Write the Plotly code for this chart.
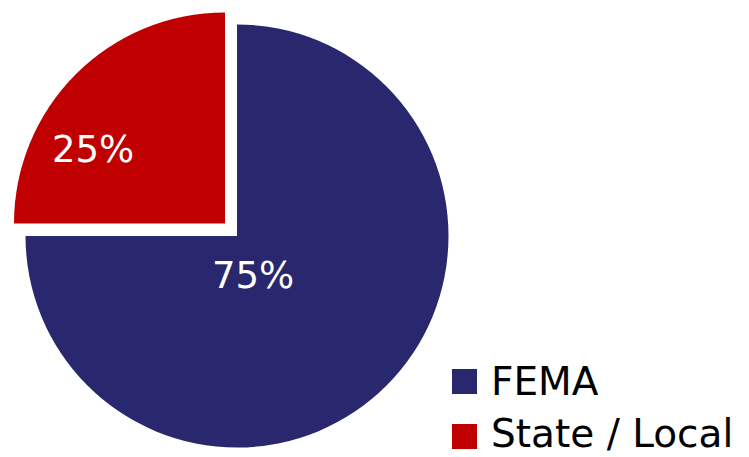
import plotly.graph_objects as go

# ---- data ----
labels = ["FEMA", "State / Local"]
values = [75, 25]
colors = ["#29286F", "#C00000"]

W, H = 749, 457
FONT = "DejaVu Sans"

def px(x):  # window x -> paper fraction
    return x / W

def py(y):  # window y (from top) -> paper fraction
    return 1 - y / H

def dom(cx, cy, r):
    return dict(x=[px(cx - r), px(cx + r)], y=[py(cy + r), py(cy - r)])

total = sum(values)
pct = [f"{v / total:.0%}" for v in values]

fig = go.Figure()
# main (FEMA) slice
fig.add_trace(go.Pie(
    labels=labels, values=values, sort=False, direction="clockwise", rotation=0,
    marker=dict(colors=[colors[0], "rgba(0,0,0,0)"], line=dict(width=0)),
    textinfo="none", showlegend=False, domain=dom(237, 236, 211.5),
    hovertemplate="%{label}: %{percent}<extra></extra>",
))
# exploded State / Local slice
fig.add_trace(go.Pie(
    labels=labels, values=values, sort=False, direction="clockwise", rotation=0,
    marker=dict(colors=["rgba(0,0,0,0)", colors[1]], line=dict(width=0)),
    textinfo="none", showlegend=False, domain=dom(225, 223.5, 211),
    hovertemplate="%{label}: %{percent}<extra></extra>",
))

# percentage labels
label_pos = [(253, 275), (93, 150)]
for (x, y), t in zip(label_pos, pct):
    fig.add_annotation(x=px(x), y=py(y), xref="paper", yref="paper", text=t,
                       showarrow=False, xanchor="center", yanchor="middle",
                       font=dict(family=FONT, size=37, color="white"))

# legend (manual, large squares)
sq_y = [381.5, 436.5]
txt_y = [381.5, 433.5]
for lab, col, ys, yt in zip(labels, colors, sq_y, txt_y):
    fig.add_shape(type="rect", xref="paper", yref="paper",
                  x0=px(452), x1=px(477), y0=py(ys + 12.5), y1=py(ys - 12.5),
                  fillcolor=col, line=dict(width=0))
    fig.add_annotation(x=px(489), y=py(yt), xref="paper", yref="paper", text=lab,
                       showarrow=False, xanchor="left", yanchor="middle",
                       font=dict(family=FONT, size=39, color="black"))

fig.update_layout(width=W, height=H, margin=dict(l=0, r=0, t=0, b=0),
                  paper_bgcolor="white", plot_bgcolor="white")
fig.write_html("out.html", config={"displayModeBar": False},
               post_script="document.body.style.margin='0';document.body.style.overflow='hidden';")
